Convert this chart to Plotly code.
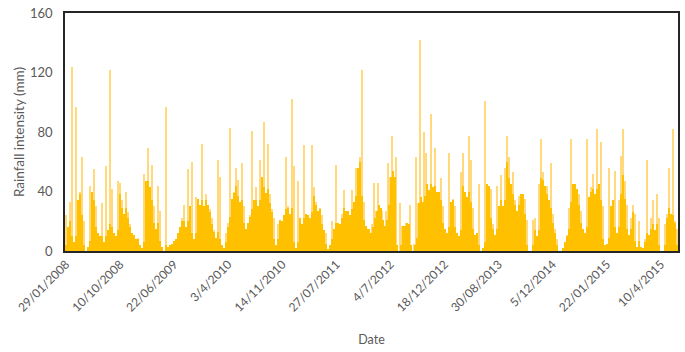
import plotly.graph_objects as go

# Daily rainfall intensity (mm), read column-by-column from the reference (each value ~ one 2-px column)
rain_mm = [
    24, 16, 33, 124, 6, 97, 34, 40, 63, 20,
    0, 3, 44, 40, 55, 30, 12, 10, 32, 6,
    57, 14, 122, 42, 12, 10, 47, 46, 34, 25,
    40, 26, 18, 12, 11, 8, 9, 4, 2, 52,
    47, 69, 43, 58, 30, 15, 44, 27, 3, 0,
    97, 3, 4, 5, 7, 8, 12, 16, 22, 31,
    16, 55, 30, 60, 8, 36, 35, 31, 72, 30,
    38, 31, 28, 22, 14, 9, 61, 50, 4, 2,
    12, 19, 83, 35, 40, 56, 48, 33, 59, 30,
    15, 19, 24, 81, 34, 43, 30, 61, 50, 87,
    39, 72, 38, 28, 22, 4, 18, 21, 20, 24,
    63, 30, 25, 102, 57, 2, 47, 22, 18, 71,
    25, 24, 22, 71, 43, 33, 27, 29, 24, 14,
    12, 1, 4, 20, 15, 58, 19, 18, 25, 41,
    27, 27, 24, 41, 33, 56, 56, 63, 122, 33,
    17, 15, 12, 18, 46, 27, 46, 29, 27, 17,
    27, 59, 50, 77, 50, 63, 0, 32, 17, 17,
    19, 18, 31, 0, 5, 63, 32, 142, 33, 80,
    66, 41, 92, 43, 69, 40, 40, 49, 30, 15,
    12, 66, 33, 35, 30, 12, 10, 53, 66, 40,
    36, 77, 61, 29, 11, 12, 45, 0, 2, 101,
    45, 44, 42, 18, 11, 44, 30, 51, 30, 56,
    77, 63, 45, 53, 34, 27, 37, 38, 38, 35,
    21, 0, 0, 21, 22, 10, 45, 75, 53, 44,
    44, 34, 59, 25, 15, 8, 0, 0, 2, 6,
    11, 29, 75, 45, 45, 42, 38, 27, 15, 12,
    75, 36, 43, 52, 38, 82, 45, 73, 30, 4,
    5, 56, 30, 34, 54, 12, 34, 64, 82, 47,
    31, 11, 22, 31, 25, 3, 20, 3, 2, 8,
    61, 11, 22, 34, 14, 38, 22, 0, 0, 18,
    25, 56, 25, 82, 20, 15,
]

date_labels = ["29/01/2008", "10/10/2008", "22/06/2009", "3/4/2010", "14/11/2010",
               "27/07/2011", "4/7/2012", "18/12/2012", "30/08/2013", "5/12/2014",
               "22/01/2015", "10/4/2015"]
label_every = 27  # categories between labelled dates

y_ticks = [0, 40, 80, 120, 160]

idx = list(range(len(rain_mm)))
tick_pos = [i * label_every for i in range(len(date_labels))]

# dense (solid) part of each column: the lower neighbour level; thin spikes above it render lighter
base = []
for i, v in enumerate(rain_mm):
    left = rain_mm[i - 1] if i > 0 else 0
    right = rain_mm[i + 1] if i < len(rain_mm) - 1 else 0
    base.append(min(v, min(left, right) + 4))

fig = go.Figure()
fig.add_trace(go.Bar(x=idx, y=rain_mm, width=0.6, marker_color="#FFD97C",
                     marker_line_width=0, hoverinfo="y"))
fig.add_trace(go.Bar(x=idx, y=base, width=1.0, marker_color="#FFC000",
                     marker_line_width=0, hoverinfo="skip"))

font_family = "Lato, 'Open Sans', sans-serif"

fig.update_layout(
    width=685, height=352,
    margin=dict(l=65, r=7, t=13, b=101),
    plot_bgcolor="white", paper_bgcolor="white",
    barmode="overlay", bargap=0, showlegend=False,
    font=dict(family=font_family, color="#595959"),
)
fig.update_xaxes(
    range=[-0.5, len(rain_mm) - 0.5], automargin=False,
    tickvals=tick_pos, ticktext=date_labels, tickangle=-45,
    tickfont=dict(family=font_family, size=12, color="#595959"), ticks="",
    showgrid=False, zeroline=False,
    showline=True, mirror=True, linecolor="#262626", linewidth=1.5,
    title=dict(text="Date", font=dict(size=12.5, color="#595959"), standoff=22),
)
fig.update_yaxes(
    range=[0, 160], tickvals=y_ticks, automargin=False,
    tickfont=dict(family=font_family, size=13, color="#595959"),
    ticks="", ticklabelstandoff=8,
    showgrid=False, zeroline=False,
    showline=True, mirror=True, linecolor="#262626", linewidth=1.5,
    title=dict(text="Rainfall intensity (mm)", font=dict(size=13.5, color="#595959"), standoff=2),
)

fig.write_html("out.html", config={"displayModeBar": False},
               post_script="document.body.style.margin='0';")
